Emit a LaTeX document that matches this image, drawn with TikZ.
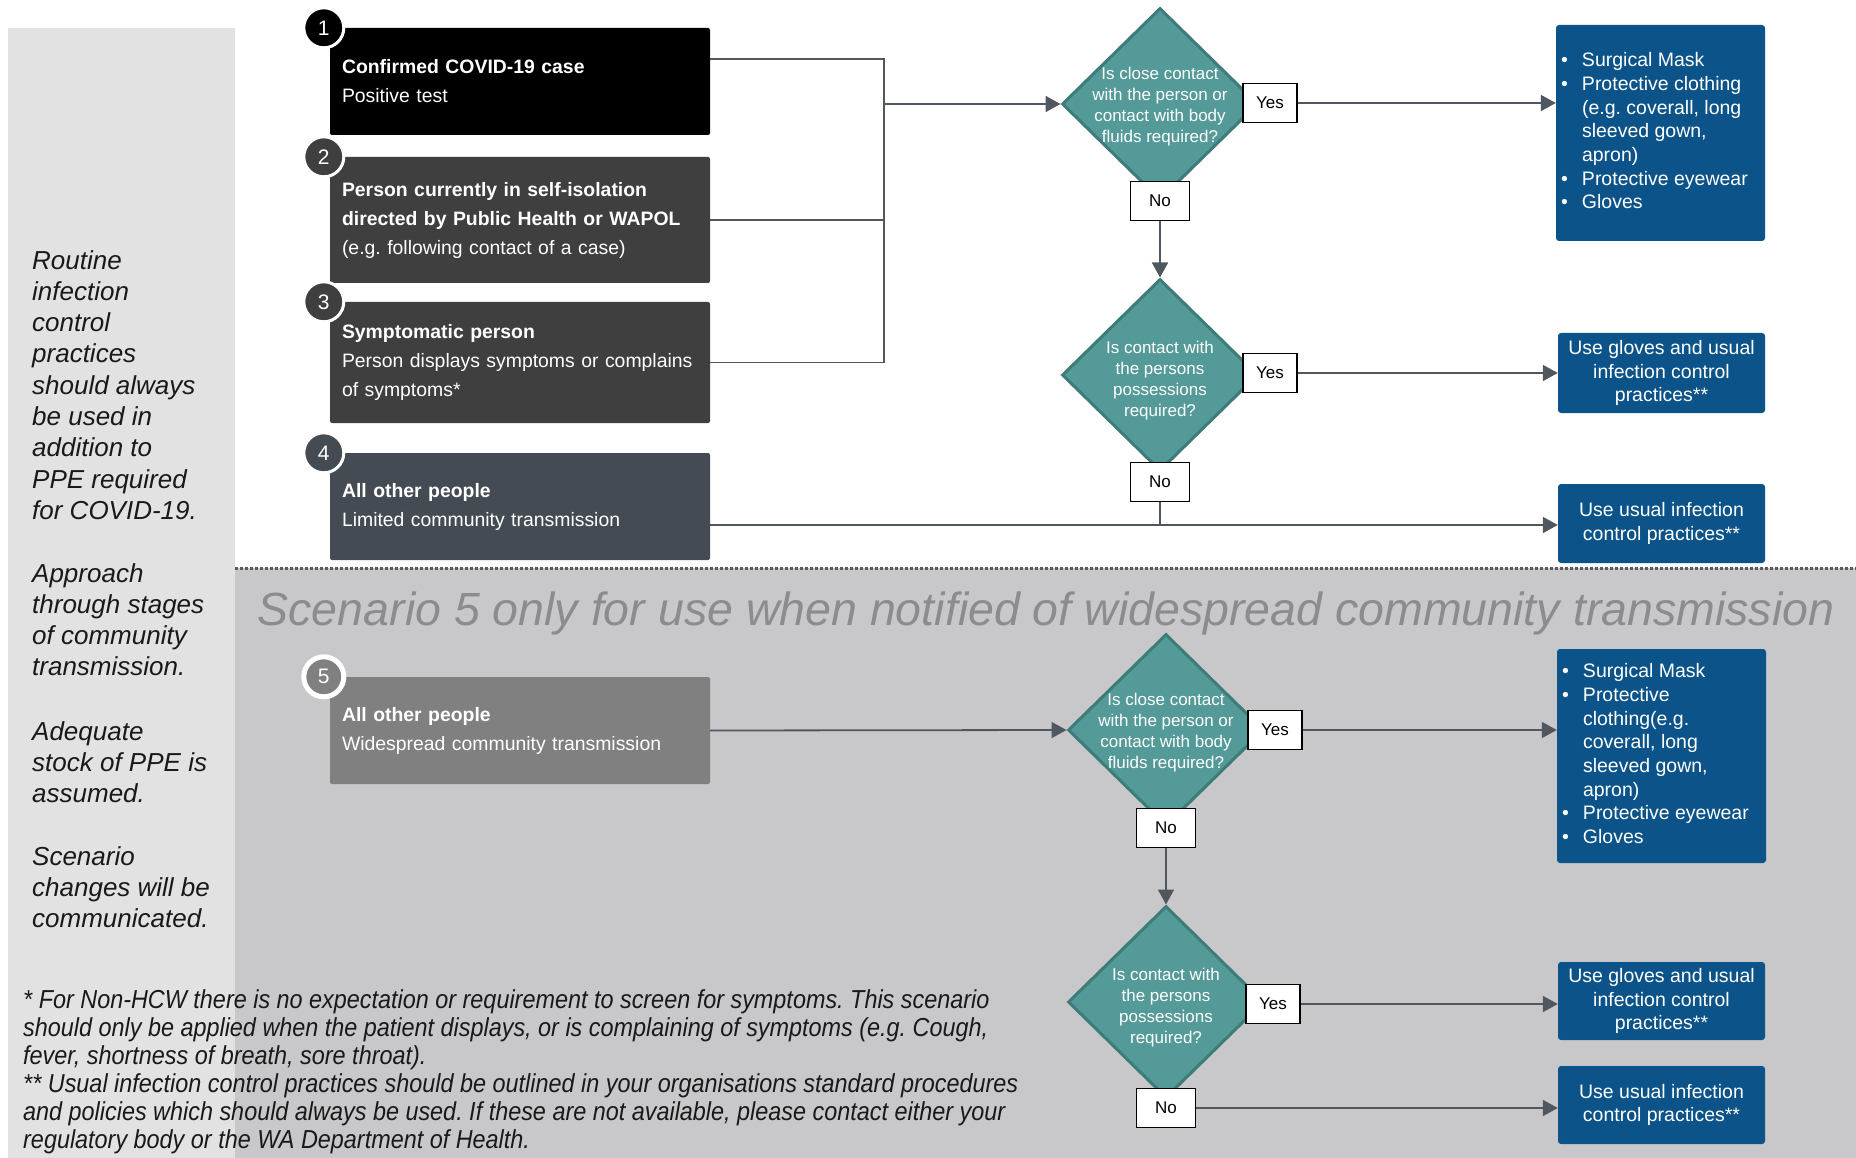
\documentclass[tikz,border=0pt]{standalone}
\usepackage{fontspec}
\setmainfont{Liberation Sans}
\newfontfamily\narrowfont[FakeStretch=0.9]{Liberation Sans}
\usetikzlibrary{shapes.geometric,arrows.meta}
\frenchspacing

\definecolor{caseblack}{HTML}{000000}
\definecolor{casedark}{HTML}{3F3F3F}
\definecolor{caseslate}{HTML}{454B53}
\definecolor{casegrey}{HTML}{808080}
\definecolor{qfill}{HTML}{539A98}
\definecolor{qedge}{HTML}{3E7C7A}
\definecolor{ppeblue}{HTML}{0B5389}
\definecolor{flowline}{HTML}{51575E}
\definecolor{panelgrey}{HTML}{E2E2E2}
\definecolor{widegrey}{HTML}{C8C8CA}
\definecolor{titlegrey}{HTML}{8C8C8E}
\definecolor{dotgrey}{HTML}{5A5A5C}

\newcommand{\ppelist}[1]{\begin{tabular}{@{}p{21pt}@{}p{178pt}@{}}#1\end{tabular}}

\tikzset{
  casebox/.style={rectangle, rounded corners=2pt, minimum width=380pt, inner xsep=12pt,
    text width=356pt, align=left, text=white, font=\fontsize{19.4}{29}\selectfont},
  numdot/.style={circle, draw=white, line width=3pt, minimum size=40pt, inner sep=0pt,
    xshift=-6pt, text=white, font=\fontsize{21}{21}\selectfont},
  decision/.style={diamond, fill=qfill, draw=qedge, line width=3pt, minimum width=196pt,
    minimum height=192pt, inner sep=0pt},
  qtext/.style={align=center, text=white, inner sep=0pt, font=\fontsize{17}{21}\selectfont},
  ansbox/.style={rectangle, fill=white, draw=black, line width=1.5pt, minimum height=39pt,
    inner sep=0pt, font=\fontsize{17}{17}\selectfont},
  ppebox/.style={rectangle, rounded corners=3pt, fill=ppeblue, minimum width=207pt,
    inner xsep=5pt, text=white, align=center, font=\fontsize{19.5}{23.7}\selectfont},
  flow/.style={draw=flowline, line width=1.8pt},
  arr/.style={flow, -{Triangle[length=15pt,width=16pt]}},
  % base of a multi-line node is its last line
  sidenote/.style={anchor=base west, align=left, inner sep=0pt, text=black!90,
    font=\fontsize{26}{31.3}\selectfont\itshape},
}

\begin{document}
\begin{tikzpicture}[x=1pt,y=-1pt]
\useasboundingbox (0,0) rectangle (1856,1158);
\fill[white] (0,0) rectangle (1856,1158);
% backgrounds
\fill[panelgrey] (8,28) rectangle (235,1158);
\fill[widegrey] (235,568) rectangle (1856,1158);
\draw[dotgrey, line width=3pt, dash pattern=on 3pt off 2pt] (235,568) -- (1856,568);
\node[anchor=base, text=titlegrey, inner sep=0pt, font=\fontsize{46.5}{50}\selectfont\itshape] (title) at (1046,625)
  {Scenario 5 only for use when notified of widespread community transmission};

% scenario boxes
\node[casebox, fill=caseblack, minimum height=107pt] (b1) at (520,81.5)
  {\textbf{Confirmed COVID-19 case}\\Positive test};
\node[casebox, fill=casedark, minimum height=126pt] (b2) at (520,220)
  {\textbf{Person currently in self-isolation}\\\textbf{directed by Public Health or WAPOL}\\(e.g. following contact of a case)};
\node[casebox, fill=casedark, minimum height=121pt] (b3) at (520,362.5)
  {\textbf{Symptomatic person}\\Person displays symptoms or complains\\of symptoms*};
\node[casebox, fill=caseslate, minimum height=107pt] (b4) at (520,506.5)
  {\textbf{All other people}\\Limited community transmission};
\node[casebox, fill=casegrey, minimum height=107pt] (b5) at (520,730.5)
  {\textbf{All other people}\\Widespread community transmission};
\node[numdot, fill=caseblack] (c1) at (b1.north west) {1};
\node[numdot, fill=casedark] (c2) at (b2.north west) {2};
\node[numdot, fill=casedark] (c3) at (b3.north west) {3};
\node[numdot, fill=caseslate] (c4) at (b4.north west) {4};
\node[numdot, fill=casegrey, line width=5pt] (c5) at (b5.north west) {5};

% questions
\node[decision] (d1) at (1160,104) {};
\node[decision] (d2) at (1160,375) {};
\node[decision] (d3) at (1166,730) {};
\node[decision] (d4) at (1166,1002) {};
\node[qtext, yshift=-3pt] (q1) at (d1) {Is close contact\\with the person or\\contact with body\\fluids required?};
\node[qtext, yshift=-6pt] (q2) at (d2) {Is contact with\\the persons\\possessions\\required?};
\node[qtext, yshift=-3pt] (q3) at (d3) {Is close contact\\with the person or\\contact with body\\fluids required?};
\node[qtext, yshift=-6pt] (q4) at (d4) {Is contact with\\the persons\\possessions\\required?};

% outcomes
\node[ppebox, minimum height=216pt] (p1) at (1660.5,133)
  {\ppelist{\textbullet & Surgical Mask\\ \textbullet & Protective clothing\\ & (e.g. coverall, long\\ & sleeved gown,\\ & apron)\\ \textbullet & Protective eyewear\\ \textbullet & Gloves}};
\node[ppebox, minimum height=80pt] (g1) at (1661.5,373) {Use gloves and usual\\infection control\\practices**};
\node[ppebox, minimum height=79pt] (u1) at (1661.5,523.5) {Use usual infection\\control practices**};
\node[ppebox, minimum height=214pt] (p2) at (1661.5,756)
  {\ppelist{\textbullet & Surgical Mask\\ \textbullet & Protective\\ & clothing(e.g.\\ & coverall, long\\ & sleeved gown,\\ & apron)\\ \textbullet & Protective eyewear\\ \textbullet & Gloves}};
\node[ppebox, minimum height=78pt] (g2) at (1661.5,1001) {Use gloves and usual\\infection control\\practices**};
\node[ppebox, minimum height=78pt] (u2) at (1661.5,1105) {Use usual infection\\control practices**};

% answers
\node[ansbox, minimum width=54pt] (y1) at (1270,103) {Yes};
\node[ansbox, minimum width=59pt] (n1) at (1160,201) {No};
\node[ansbox, minimum width=54pt] (y2) at (1270,373) {Yes};
\node[ansbox, minimum width=59pt] (n2) at (1160,482) {No};
\node[ansbox, minimum width=54pt] (y3) at (1275,730) {Yes};
\node[ansbox, minimum width=59pt] (n3) at (1166,828) {No};
\node[ansbox, minimum width=54pt] (y4) at (1273,1004) {Yes};
\node[ansbox, minimum width=59pt] (n4) at (1166,1108) {No};

% connectors
\coordinate (j1) at (884,59);
\coordinate (j0) at (884,104);
\coordinate (j4) at (1160,525);
\draw[flow] (j1 -| b1.east) -- (j1) -- (j1 |- b3.east) -- (b3.east);
\draw[flow] (b2.east) -- (b2.east -| j1);
\draw[arr] (j0) -- (d1.west);
\draw[arr] (y1) -- (y1 -| p1.west);
\draw[arr] (n1) -- (d2.north);
\draw[arr] (y2) -- (y2 -| g1.west);
\draw[flow] (n2) -- (j4);
\draw[arr] (j4 -| b4.east) -- (j4 -| u1.west);
\draw[arr] (b5.east) -- (d3.west);
\draw[arr] (y3) -- (y3 -| p2.west);
\draw[arr] (n3) -- (d4.north);
\draw[arr] (y4) -- (y4 -| g2.west);
\draw[arr] (n4) -- (n4 -| u2.west);

% side notes
\node[sidenote] (s1) at (32,519.4) {Routine\\infection\\control\\practices\\should always\\be used in\\addition to\\PPE required\\for COVID-19.};
\node[sidenote] (s2) at (32,675.9) {Approach\\through stages\\of community\\transmission.};
\node[sidenote] (s3) at (32,802.6) {Adequate\\stock of PPE is\\assumed.};
\node[sidenote] (s4) at (32,927.6) {Scenario\\changes will be\\communicated.};
\node[anchor=base west, align=left, inner sep=0pt, text=black!90,
  font=\narrowfont\fontsize{26}{28}\selectfont\itshape] (fn) at (23,1148)
  {* For Non-HCW there is no expectation or requirement to screen for symptoms. This scenario\\
   should only be applied when the patient displays, or is complaining of symptoms (e.g. Cough,\\
   fever, shortness of breath, sore throat).\\
   ** Usual infection control practices should be outlined in your organisations standard procedures\\
   and policies which should always be used. If these are not available, please contact either your\\
   regulatory body or the WA Department of Health.};
\end{tikzpicture}
\end{document}
